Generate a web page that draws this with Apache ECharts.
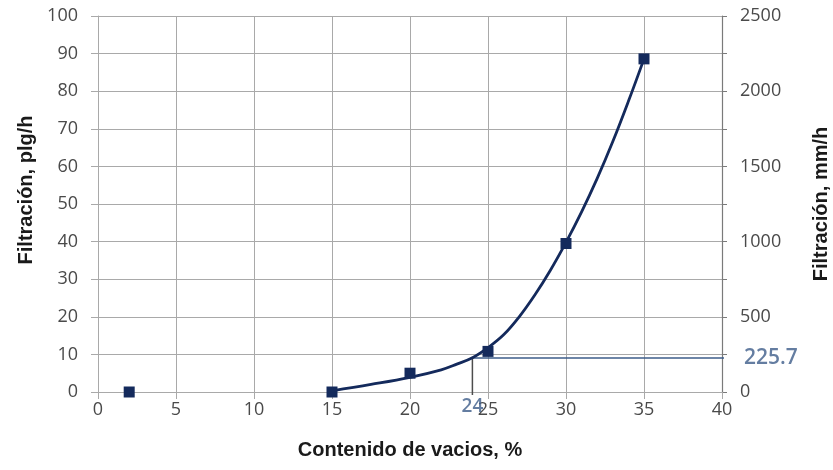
<!DOCTYPE html>
<html>
<head>
<meta charset="utf-8">
<script src="https://cdn.jsdelivr.net/npm/echarts@6/dist/echarts.min.js"></script>
<style>
  html, body { margin: 0; padding: 0; background: #ffffff; overflow: hidden; }
  #chart { width: 833px; height: 470px; }
</style>
</head>
<body>
<div id="chart"></div>
<script>
// Measured points: void content (%) vs filtration (plg/h)
const voidContent = [2, 15, 20, 25, 30, 35];
const filtration = [0, 0, 5.0, 10.8, 39.5, 88.6];

// Fitted trend curve, read along its length
const trendX = [15, 17.5, 20, 22, 23, 24, 25, 26, 27, 28, 29, 30, 31, 32, 33, 34, 35];
const trendY = [0.3, 2.0, 3.9, 5.9, 7.4, 9.1, 11.8, 15.2, 20.0, 25.8, 32.4, 39.8, 47.9, 56.8, 66.6, 77.3, 88.6];

// Read-off guide: 24 % void content -> 225.7 mm/h
const guideX = 24;
const guideMmh = 225.7;
const guideBottomMmh = -20;   // guide drops just below the x axis
const guideRightX = 40.8;     // guide runs just past the right axis

// Axis ranges
const xTicks = { min: 0, max: 40, step: 5 };
const leftTicks = { min: 0, max: 100, step: 10 };
const rightTicks = { min: 0, max: 2500, step: 250, labelStep: 500 };

const navy = '#142a5c';
const guideBlue = '#3d5d8a';
const guideGray = '#4d4d4d';
const gridColor = '#a9a9a9';
const tickFont = { fontFamily: 'Open Sans', fontSize: 18, color: '#4a4a4a' };
const titleFont = { fontFamily: 'Liberation Sans', fontSize: 20, fontWeight: 'bold', color: '#1a1a1a' };

const chart = echarts.init(document.getElementById('chart'), null, { renderer: 'canvas' });

const option = {
  animation: false,
  backgroundColor: '#ffffff',
  grid: { left: 98, right: 111, top: 16, bottom: 78, containLabel: false, outerBoundsMode: 'none' },
  xAxis: {
    type: 'value',
    min: xTicks.min, max: xTicks.max, interval: xTicks.step,
    name: 'Contenido de vacios, %',
    nameLocation: 'middle',
    nameGap: 48,
    nameTextStyle: titleFont,
    axisLine: { show: true, lineStyle: { color: gridColor, width: 1 } },
    axisTick: { show: true, length: 7, lineStyle: { color: gridColor } },
    axisLabel: Object.assign({ margin: 9 }, tickFont),
    splitLine: { show: true, lineStyle: { color: gridColor, width: 1 } }
  },
  yAxis: [
    {
      type: 'value',
      position: 'left',
      min: leftTicks.min, max: leftTicks.max, interval: leftTicks.step,
      name: 'Filtración, plg/h',
      nameLocation: 'middle',
      nameRotate: 90,
      nameGap: 58,
      nameTextStyle: Object.assign({ padding: [0, 0, 0, 28] }, titleFont),
      axisLine: { show: true, lineStyle: { color: gridColor, width: 1 } },
      axisTick: { show: true, length: 7, lineStyle: { color: gridColor } },
      axisLabel: Object.assign({ margin: 20 }, tickFont),
      splitLine: { show: true, lineStyle: { color: gridColor, width: 1 } }
    },
    {
      type: 'value',
      position: 'right',
      min: rightTicks.min, max: rightTicks.max, interval: rightTicks.step,
      name: 'Filtración, mm/h',
      nameLocation: 'middle',
      nameRotate: 90,
      nameGap: 89,
      nameTextStyle: titleFont,
      axisLine: { show: true, lineStyle: { color: '#7a7a7a', width: 1.2 } },
      axisTick: { show: true, length: 5, lineStyle: { color: '#7a7a7a' } },
      axisLabel: Object.assign({
        margin: 18,
        formatter: v => (v % rightTicks.labelStep === 0 ? String(v) : '')
      }, tickFont),
      splitLine: { show: false }
    }
  ],
  series: [
    {
      name: 'Tendencia',
      type: 'line',
      data: trendX.map((x, i) => [x, trendY[i]]),
      smooth: 0.4,
      showSymbol: false,
      symbol: 'none',
      lineStyle: { color: navy, width: 2.8 },
      z: 3
    },
    {
      name: 'Filtración',
      type: 'scatter',
      data: voidContent.map((x, i) => [x, filtration[i]]),
      symbol: 'rect',
      symbolSize: 11,
      itemStyle: { color: navy, opacity: 1 },
      z: 4
    },
    {
      name: 'Lectura vertical',
      type: 'line',
      yAxisIndex: 1,
      clip: false,
      data: [[guideX, guideBottomMmh], [guideX, guideMmh]],
      symbol: 'none',
      lineStyle: { color: guideGray, width: 1.5 },
      z: 2
    },
    {
      name: 'Lectura horizontal',
      type: 'line',
      yAxisIndex: 1,
      clip: false,
      data: [[guideX, guideMmh], [guideRightX, guideMmh]],
      symbol: 'none',
      lineStyle: { color: guideBlue, width: 1.6 },
      z: 2
    },
    {
      name: 'Etiquetas',
      type: 'scatter',
      yAxisIndex: 1,
      clip: false,
      symbolSize: 1,
      itemStyle: { color: 'rgba(0,0,0,0)' },
      silent: true,
      data: [
        {
          value: [guideX, guideBottomMmh],
          label: {
            show: true, position: 'bottom', distance: 2,
            formatter: String(guideX),
            fontFamily: 'Open Sans', fontSize: 19, fontWeight: 600, color: guideBlue
          }
        },
        {
          value: [guideRightX, guideMmh],
          label: {
            show: true, position: 'right', distance: 9,
            formatter: String(guideMmh),
            fontFamily: 'Open Sans', fontSize: 21, fontWeight: 600, color: guideBlue
          }
        }
      ],
      z: 5
    }
  ]
};

chart.setOption(option);
</script>
</body>
</html>
